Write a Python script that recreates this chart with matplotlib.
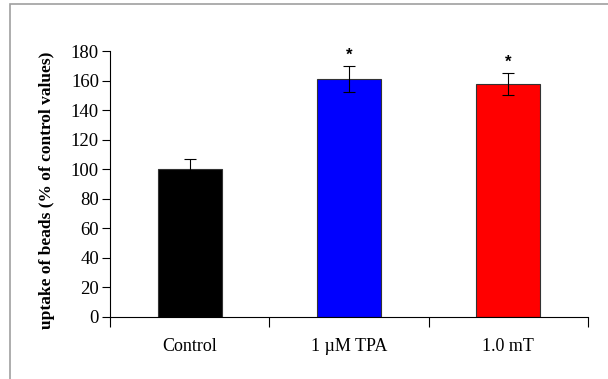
import matplotlib
matplotlib.use("Agg")
import matplotlib.pyplot as plt
from matplotlib.patches import Rectangle

# values
groups = ["Control", "1 \u00b5M TPA", "1.0 mT"]
uptake = [100, 161, 158]
sem = [7, 9, 7.5]
colors = ["black", "#0000ff", "#ff0000"]
significant = [False, True, True]

plt.rcParams["font.family"] = ["Liberation Serif", "DejaVu Serif"]

fig = plt.figure(figsize=(6.08, 3.79), dpi=100)
ax = fig.add_axes([0.181, 0.164, 0.786, 0.701])

x = range(len(groups))
ax.bar(x, uptake, width=0.4, color=colors, edgecolor="#333333", linewidth=0.8, zorder=2)
ax.errorbar(x, uptake, yerr=sem, fmt="none", ecolor="black", elinewidth=0.8,
            capsize=4, capthick=0.8, zorder=3)

for i, (v, e, s) in enumerate(zip(uptake, sem, significant)):
    if s:
        ax.text(i, v + e + 7, "*", ha="center", va="center", fontsize=12,
                fontweight="bold", family=["Liberation Sans"])

ax.set_xlim(-0.5, len(groups) - 0.5)
ax.set_ylim(0, 180)
ax.set_yticks(range(0, 181, 20))
ax.tick_params(axis="y", direction="out", length=6, width=0.8, labelsize=13.5, pad=2)

# category boundaries carry the ticks, names sit between them
ax.set_xticks([i - 0.5 for i in range(len(groups) + 1)])
ax.set_xticklabels([])
ax.set_xticks(list(x), minor=True)
ax.set_xticklabels(groups, minor=True, fontsize=13)
ax.tick_params(axis="x", which="major", direction="out", length=7, width=0.8)
ax.tick_params(axis="x", which="minor", length=0, pad=15)

for side in ["top", "right"]:
    ax.spines[side].set_visible(False)
ax.spines["left"].set_linewidth(0.8)
ax.spines["bottom"].set_linewidth(0.8)

ax.set_ylabel("uptake of beads (% of control values)", fontsize=12.5,
              fontweight="bold", va="center")
ax.yaxis.set_label_coords(-0.132, 0.477)

fig.patches.append(Rectangle((0.016, -0.05), 1.2, 1.04, transform=fig.transFigure,
                             fill=False, edgecolor="#a0a0a0", linewidth=1.2))

fig.savefig("out.png", dpi=100)
